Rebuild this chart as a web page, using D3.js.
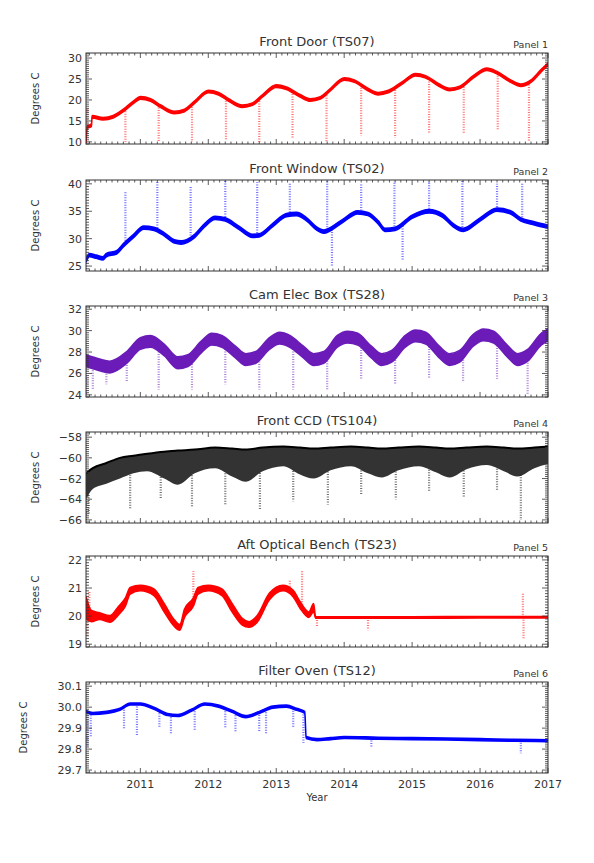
<!DOCTYPE html>
<html><head><meta charset="utf-8">
<script src="https://cdn.jsdelivr.net/npm/d3@7"></script>
<style>body{margin:0;background:#fff}svg{font-family:"DejaVu Sans",sans-serif}</style>
</head><body><svg id="c" width="594" height="863"></svg>
<script>
// Panel titles and colours
const titles = ['Front Door (TS07)', 'Front Window (TS02)', 'Cam Elec Box (TS28)', 'Front CCD (TS104)', 'Aft Optical Bench (TS23)', 'Filter Oven (TS12)'];
const colors = ['#ff0000', '#0000ff', '#6a1bb8', '#000000', '#ff0000', '#0000ff'];
const yDomains = [[9.5, 31.2], [24.1, 40.7], [23.8, 32.3], [-66.3, -57.5], [18.9, 22.14], [29.686, 30.12]];
const yTicks = [[10, 15, 20, 25, 30], [25, 30, 35, 40], [24, 26, 28, 30, 32], [-66, -64, -62, -60, -58], [19, 20, 21, 22], [29.7, 29.8, 29.9, 30.0, 30.1]];
const yFormats = ['d', 'd', 'd', 'd', 'd', '.1f'];
const yearTicks = [2011, 2012, 2013, 2014, 2015, 2016, 2017];

// [year, centre value]
const frontDoor = [[2010.2,10],[2010.22,13.5],[2010.28,14],[2010.29,16],[2010.45,15.5],[2010.6,16],[2010.75,17.5],[2010.9,19.5],[2011.0,20.5],[2011.15,20],[2011.3,18.5],[2011.5,17],[2011.65,17.5],[2011.8,19.5],[2012.0,22],[2012.15,21.5],[2012.3,20],[2012.5,18.5],[2012.65,19],[2012.8,21],[2013.0,23.3],[2013.15,22.8],[2013.35,21],[2013.5,20],[2013.65,20.5],[2013.8,22.5],[2014.0,25],[2014.15,24.5],[2014.35,22.5],[2014.5,21.5],[2014.65,22],[2014.85,24],[2015.05,26],[2015.2,25.5],[2015.4,23.5],[2015.55,22.5],[2015.7,23],[2015.9,25.5],[2016.1,27.3],[2016.25,26.5],[2016.45,24.5],[2016.6,23.5],[2016.75,24.5],[2016.9,27],[2017.0,28.5]];
const frontWindow = [[2010.2,26],[2010.25,27],[2010.35,26.7],[2010.45,26.4],[2010.5,27],[2010.65,27.5],[2010.75,28.8],[2010.9,30.5],[2011.05,32],[2011.2,31.8],[2011.35,30.8],[2011.5,29.5],[2011.6,29.3],[2011.8,30.5],[2011.95,32.5],[2012.1,33.8],[2012.25,33.5],[2012.45,32],[2012.65,30.5],[2012.75,30.6],[2012.95,32.5],[2013.15,34.3],[2013.3,34.5],[2013.45,33.5],[2013.6,31.8],[2013.7,31.3],[2013.95,33],[2014.2,34.8],[2014.35,34.5],[2014.5,33],[2014.6,31.6],[2014.75,31.8],[2015.0,34],[2015.25,35],[2015.45,34.2],[2015.6,32.5],[2015.75,31.6],[2016.0,33.5],[2016.25,35.3],[2016.45,34.8],[2016.6,33.5],[2016.8,32.8],[2017.0,32.2]];
const camElec = [[2010.2,27.2],[2010.4,26.8],[2010.55,26.6],[2010.8,27.5],[2011.0,28.8],[2011.15,29],[2011.35,28.2],[2011.55,27],[2011.7,27.2],[2011.9,28.5],[2012.05,29.2],[2012.2,29],[2012.4,28],[2012.55,27.3],[2012.7,27.5],[2012.9,28.8],[2013.05,29.3],[2013.2,29],[2013.4,28],[2013.55,27.3],[2013.7,27.5],[2013.9,29],[2014.05,29.4],[2014.2,29.2],[2014.4,28],[2014.55,27.3],[2014.7,27.6],[2014.9,29],[2015.05,29.5],[2015.2,29.3],[2015.4,28],[2015.55,27.3],[2015.7,27.6],[2015.9,29.1],[2016.05,29.6],[2016.2,29.4],[2016.4,28.1],[2016.55,27.3],[2016.7,27.7],[2016.9,29.2],[2017.0,29.6]];
// CCD band: [year, upper, lower]
const frontCcd = [[2010.2,-61.5,-64],[2010.3,-61,-63],[2010.5,-60.5,-62.5],[2010.7,-60,-62],[2010.9,-59.8,-61.5],[2011.1,-59.6,-61.3],[2011.35,-59.4,-62],[2011.55,-59.3,-62.6],[2011.8,-59.2,-61.5],[2012.1,-59,-61],[2012.35,-59.1,-61.8],[2012.55,-59.2,-62.3],[2012.8,-59,-61.3],[2013.1,-58.9,-60.8],[2013.35,-59,-61.6],[2013.55,-59.1,-62],[2013.8,-59,-61.2],[2014.1,-58.9,-60.8],[2014.35,-59,-61.5],[2014.55,-59.1,-61.9],[2014.8,-59,-61.2],[2015.1,-58.9,-60.8],[2015.35,-59,-61.4],[2015.55,-59.1,-61.9],[2015.8,-59,-61.1],[2016.1,-58.9,-60.7],[2016.35,-59,-61.3],[2016.55,-59.1,-61.8],[2016.8,-59,-61],[2017.0,-58.9,-60.6]];
// Aft bench: [year, centre, half spread]
const aftBench = [[2010.2,20.3,0.4],[2010.28,20.0,0.2],[2010.4,20.0,0.12],[2010.55,19.9,0.12],[2010.68,20.2,0.15],[2010.78,20.5,0.15],[2010.85,20.9,0.12],[2011.0,21.0,0.1],[2011.2,20.85,0.12],[2011.35,20.3,0.15],[2011.5,19.75,0.12],[2011.58,19.6,0.1],[2011.65,20.1,0.15],[2011.78,20.5,0.15],[2011.85,20.9,0.12],[2012.0,21.0,0.1],[2012.2,20.85,0.12],[2012.35,20.3,0.15],[2012.5,19.8,0.12],[2012.6,19.7,0.1],[2012.72,19.9,0.12],[2012.9,20.7,0.12],[2013.1,21.0,0.1],[2013.25,20.8,0.12],[2013.35,20.4,0.12],[2013.48,20.05,0.1],[2013.55,20.3,0.15],[2013.58,19.95,0.03],[2014.0,19.95,0.03],[2015.0,19.95,0.03],[2016.0,19.96,0.03],[2017.0,19.96,0.03]];
const filterOven = [[2010.2,29.98],[2010.3,29.97],[2010.5,29.975],[2010.7,29.99],[2010.85,30.015],[2011.0,30.015],[2011.2,29.995],[2011.4,29.965],[2011.55,29.96],[2011.75,29.985],[2011.95,30.015],[2012.15,30.005],[2012.35,29.98],[2012.55,29.955],[2012.75,29.975],[2012.95,30.0],[2013.15,30.005],[2013.3,29.99],[2013.42,29.975],[2013.44,29.855],[2013.6,29.845],[2013.8,29.85],[2014.0,29.855],[2014.5,29.852],[2015.0,29.85],[2015.5,29.848],[2016.0,29.845],[2016.5,29.842],[2017.0,29.84]];

// excursions: [year, extreme value]
const doorSpikes = [[2010.2,9.6],[2010.22,18],[2010.78,10],[2011.27,10],[2011.76,10],[2012.26,10.5],[2012.75,10],[2013.24,11],[2013.74,10],[2014.25,11.5],[2014.75,11],[2015.25,12],[2015.76,12],[2016.26,13],[2016.72,10]];
const windowSpikes = [[2010.2,24.5],[2010.78,38.5],[2011.25,40.5],[2011.74,39.5],[2012.25,40.5],[2012.72,40.3],[2013.2,40.3],[2013.75,40.5],[2013.82,25],[2014.25,40],[2014.74,40.5],[2014.86,26],[2015.25,40.5],[2015.74,40.5],[2016.25,40],[2016.62,40]];
const camSpikes = [[2010.2,24],[2010.3,24.5],[2010.5,25],[2010.8,25.3],[2011.27,24.5],[2011.76,24.5],[2012.25,25],[2012.75,24.5],[2013.25,24.5],[2013.75,24.5],[2014.25,25.5],[2014.75,25],[2015.25,25.5],[2015.75,25.3],[2016.25,25.5],[2016.7,24]];
const ccdSpikes = [[2010.2,-66.3],[2010.24,-65.5],[2010.85,-65],[2011.3,-64],[2011.76,-64.8],[2012.25,-64.5],[2012.76,-65],[2013.25,-64.2],[2013.76,-64.5],[2014.25,-63.5],[2014.76,-64],[2015.25,-63.2],[2015.76,-63.8],[2016.25,-63.2],[2016.6,-66]];
const benchSpikes = [[2010.22,19.3],[2010.25,20.9],[2011.78,21.6],[2013.2,21.3],[2013.38,21.6],[2013.6,19.6],[2014.35,19.5],[2016.63,20.8],[2016.64,19.2]];
const ovenSpikes = [[2010.22,29.81],[2010.27,29.86],[2010.76,29.9],[2010.95,29.86],[2011.28,29.9],[2011.45,29.87],[2011.8,29.89],[2012.25,29.9],[2012.4,29.88],[2012.75,29.88],[2012.85,29.87],[2013.25,29.9],[2013.4,29.83],[2014.4,29.81],[2016.6,29.78]];

const series = [frontDoor, frontWindow, camElec, null, aftBench, filterOven];
const halfWidth = [0.3, 0.3, 0.55, 0, 0, 0.005];
const spikes = [doorSpikes, windowSpikes, camSpikes, ccdSpikes, benchSpikes, ovenSpikes];

const svg = d3.select('#c');
const left = 86, right = 548, panelH = 91;
const tops = [53, 180, 306, 432, 556, 682];
const x = d3.scaleLinear().domain([2010.2, 2017.0]).range([left, right]);
const ink = '#333';
const curve = d3.curveMonotoneX;

function interp(data, t) {
  for (let i = 1; i < data.length; i++) {
    if (t <= data[i][0]) {
      const a = data[i - 1], b = data[i];
      return a[1] + (b[1] - a[1]) * (t - a[0]) / (b[0] - a[0]);
    }
  }
  return data[data.length - 1][1];
}

titles.forEach((title, i) => {
  const top = tops[i], bottom = top + panelH;
  const y = d3.scaleLinear().domain(yDomains[i]).range([bottom, top]);
  const g = svg.append('g');
  const clipId = 'clip' + i;
  svg.append('clipPath').attr('id', clipId).append('rect')
    .attr('x', left).attr('y', top).attr('width', right - left).attr('height', panelH);
  const plot = g.append('g').attr('clip-path', `url(#${clipId})`);

  // Excursions
  spikes[i].forEach(s => {
    const base = i === 3 ? interp(frontCcd.map(d => [d[0], d[2]]), s[0]) : interp(series[i], s[0]);
    plot.append('line')
      .attr('x1', x(s[0])).attr('x2', x(s[0]))
      .attr('y1', y(base)).attr('y2', y(s[1]))
      .attr('stroke', colors[i]).attr('stroke-width', 2.2)
      .attr('stroke-dasharray', '1 1.5').attr('opacity', 0.55);
  });

  if (i === 3) {
    plot.append('path').datum(frontCcd)
      .attr('d', d3.area().curve(curve).x(d => x(d[0])).y0(d => y(d[2])).y1(d => y(d[1])))
      .attr('fill', '#000').attr('opacity', 0.8);
    plot.append('path').datum(frontCcd)
      .attr('d', d3.line().curve(curve).x(d => x(d[0])).y(d => y(d[1])))
      .attr('fill', 'none').attr('stroke', '#000').attr('stroke-width', 2);
  } else {
    const hw = d => d.length > 2 ? d[2] : halfWidth[i];
    plot.append('path').datum(series[i])
      .attr('d', d3.area().curve(curve).x(d => x(d[0])).y0(d => y(d[1] - hw(d))).y1(d => y(d[1] + hw(d))))
      .attr('fill', colors[i]).attr('stroke', colors[i]).attr('stroke-width', 1.5);
  }

  // Frame
  g.append('rect').attr('x', left).attr('y', top).attr('width', right - left).attr('height', panelH)
    .attr('fill', 'none').attr('stroke', ink).attr('stroke-width', 1);

  // X ticks (major yearly, minor monthly) on bottom and top
  const months = d3.range(2010.25, 2017.0001, 1 / 12);
  months.forEach(m => {
    const isMajor = Math.abs(m - Math.round(m)) < 1e-6;
    const len = isMajor ? 5 : 2.5;
    [[bottom, -1], [top, 1]].forEach(([yy, dir]) => {
      g.append('line').attr('x1', x(m)).attr('x2', x(m)).attr('y1', yy).attr('y2', yy + dir * len)
        .attr('stroke', ink).attr('stroke-width', 0.8);
    });
  });

  // Y ticks and labels
  const dom = yDomains[i];
  const step = yTicks[i][1] - yTicks[i][0];
  const minorStep = step / 10;
  d3.range(Math.ceil(dom[0] / minorStep) * minorStep, dom[1], minorStep).forEach(v => {
    const isMajor = yTicks[i].some(t => Math.abs(t - v) < minorStep / 3);
    const len = isMajor ? 6 : 3;
    [[left, 1], [right, -1]].forEach(([xx, dir]) => {
      g.append('line').attr('x1', xx).attr('x2', xx + dir * len).attr('y1', y(v)).attr('y2', y(v))
        .attr('stroke', ink).attr('stroke-width', 0.8);
    });
  });
  yTicks[i].forEach(t => {
    g.append('text').attr('x', left - 4).attr('y', y(t) + 4).attr('text-anchor', 'end')
      .attr('font-size', 11).attr('fill', ink).text(d3.format(yFormats[i])(t));
  });
  g.append('text').attr('transform', `translate(${i === 5 ? 27 : 39},${top + panelH / 2}) rotate(-90)`)
    .attr('text-anchor', 'middle').attr('font-size', 10).attr('fill', ink).text('Degrees C');

  g.append('text').attr('x', (left + right) / 2).attr('y', top - 7).attr('text-anchor', 'middle')
    .attr('font-size', 13).attr('fill', ink).text(title);
  g.append('text').attr('x', right).attr('y', top - 5).attr('text-anchor', 'end')
    .attr('font-size', 9.5).attr('fill', ink).text('Panel ' + (i + 1));

  if (i === 5) {
    yearTicks.forEach(yr => {
      g.append('text').attr('x', x(yr)).attr('y', bottom + 15).attr('text-anchor', 'middle')
        .attr('font-size', 11).attr('fill', ink).text(yr);
    });
    g.append('text').attr('x', (left + right) / 2).attr('y', bottom + 28).attr('text-anchor', 'middle')
      .attr('font-size', 10).attr('fill', ink).text('Year');
  }
});
</script></body></html>
